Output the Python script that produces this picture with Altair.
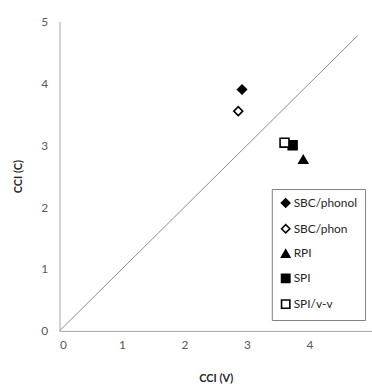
import altair as alt
import pandas as pd

series = ["SBC/phonol", "SBC/phon", "RPI", "SPI", "SPI/v-v"]
cci_v = [2.92, 2.86, 3.90, 3.73, 3.60]
cci_c = [3.90, 3.55, 2.77, 3.00, 3.04]
shapes = ["diamond", "diamond", "triangle-up", "square", "square"]
fills = ["black", "white", "black", "black", "white"]
strokes = ["black", "black", "black", "black", "black"]

line_x = [0, 4.77]
line_y = [0, 4.77]

ticks = [0, 1, 2, 3, 4, 5]

pts = pd.DataFrame({"series": series, "v": cci_v, "c": cci_c})
ln = pd.DataFrame({"v": line_x, "c": line_y})

FONT = "Lato"

xs = alt.Scale(domain=[0, 5], nice=False)
ys = alt.Scale(domain=[0, 5], nice=False)

line = alt.Chart(ln).mark_line(color="#8c8c8c", strokeWidth=1).encode(
    x=alt.X("v:Q", scale=xs, title="CCI (V)",
            axis=alt.Axis(values=ticks[:-1], format="d", grid=False, ticks=False, domainColor="#a6a6a6",
                          labelColor="#595959", labelFontSize=12, labelPadding=9,
                          titleFontSize=11, titleFontWeight="bold", titleColor="#262626",
                          titlePadding=22, labelFont=FONT, titleFont=FONT)),
    y=alt.Y("c:Q", scale=ys, title="CCI (C)",
            axis=alt.Axis(values=ticks, format="d", grid=False, ticks=False, domainColor="#a6a6a6",
                          labelColor="#595959", labelFontSize=12, labelPadding=12,
                          titleFontSize=11, titleFontWeight="bold", titleColor="#262626",
                          titlePadding=17, labelFont=FONT, titleFont=FONT)),
)

leg = alt.Legend(title=None, orient="none", legendX=214, legendY=169,
                 strokeColor="#808080", fillColor="white", padding=8,
                 labelFontSize=12, labelFont=FONT, labelColor="#262626",
                 rowPadding=10, symbolSize=70, symbolStrokeWidth=1.6,
                 labelOffset=2)

points = alt.Chart(pts).mark_point(strokeWidth=1.6, opacity=1, size=80).encode(
    x=alt.X("v:Q", scale=xs),
    y=alt.Y("c:Q", scale=ys),
    shape=alt.Shape("series:N", scale=alt.Scale(domain=series, range=shapes), legend=leg),
    fill=alt.Fill("series:N", scale=alt.Scale(domain=series, range=fills), legend=leg),
    stroke=alt.Stroke("series:N", scale=alt.Scale(domain=series, range=strokes), legend=leg),
)

chart = alt.layer(line, points).properties(
    width=315, height=312,
    padding={"left": 60, "top": 20, "right": 0, "bottom": 58},
    autosize=alt.AutoSizeParams(type="none"),
).configure_view(stroke=None)

chart.save("out.html", embed_options={"renderer": "svg", "actions": False})
